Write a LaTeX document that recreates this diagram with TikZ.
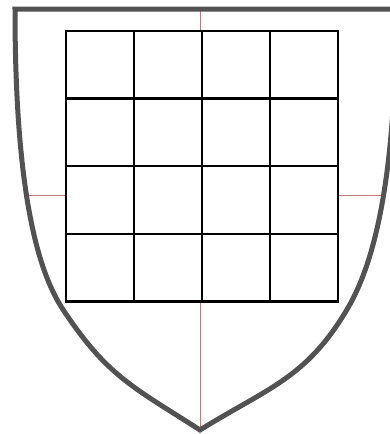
\documentclass[tikz,border=0pt]{standalone}
\definecolor{shieldgray}{RGB}{82,82,82}
\definecolor{guidered}{RGB}{192,122,122}
\tikzset{
  shieldline/.style={draw=shieldgray,line width=5pt,line join=miter},
  guideline/.style={draw=guidered,line width=0.8pt},
  gridline/.style={draw=black,line width=2.5pt,line join=miter}
}
\begin{document}
\begin{tikzpicture}[x=1pt,y=-1pt]
\useasboundingbox (0,0) rectangle (390,434);
\fill[white] (0,0) rectangle (390,434);
% guide lines
\coordinate (vtop) at (200,11);
\coordinate (gtop) at (200,31);
\coordinate (gbot) at (200,301.5);
\coordinate (tip) at (200,430);
\coordinate (hl) at (24,195);
\coordinate (gl) at (66,195);
\coordinate (gr) at (338,195);
\coordinate (hr) at (383,195);
\draw[guideline] (vtop) -- (gtop);
\draw[guideline] (gbot) -- (tip);
\draw[guideline] (hl) -- (gl);
\draw[guideline] (gr) -- (hr);
% shield
\coordinate (tl) at (15,9);
\coordinate (tr) at (396,9);
\coordinate (ml) at (63.3,310);
\coordinate (mr) at (346.7,310);
\draw[shieldline] (tr) -- (tl)
  .. controls (15,200) and (40,275) .. (ml)
  .. controls (107.6,376.6) and (132.8,386.8) .. (tip)
  .. controls (268,387.8) and (305.7,378.7) .. (mr)
  .. controls (368.2,273.9) and (396,200) .. (tr) -- cycle;
% grid
\foreach \i in {0,1,2,3}{
  \foreach \j in {0,1,2,3}{
    \draw[gridline] ({66+68*\i},{31+67.6*\j}) rectangle ({66+68*(\i+1)},{31+67.6*(\j+1)});
  }
}
\end{tikzpicture}
\end{document}
